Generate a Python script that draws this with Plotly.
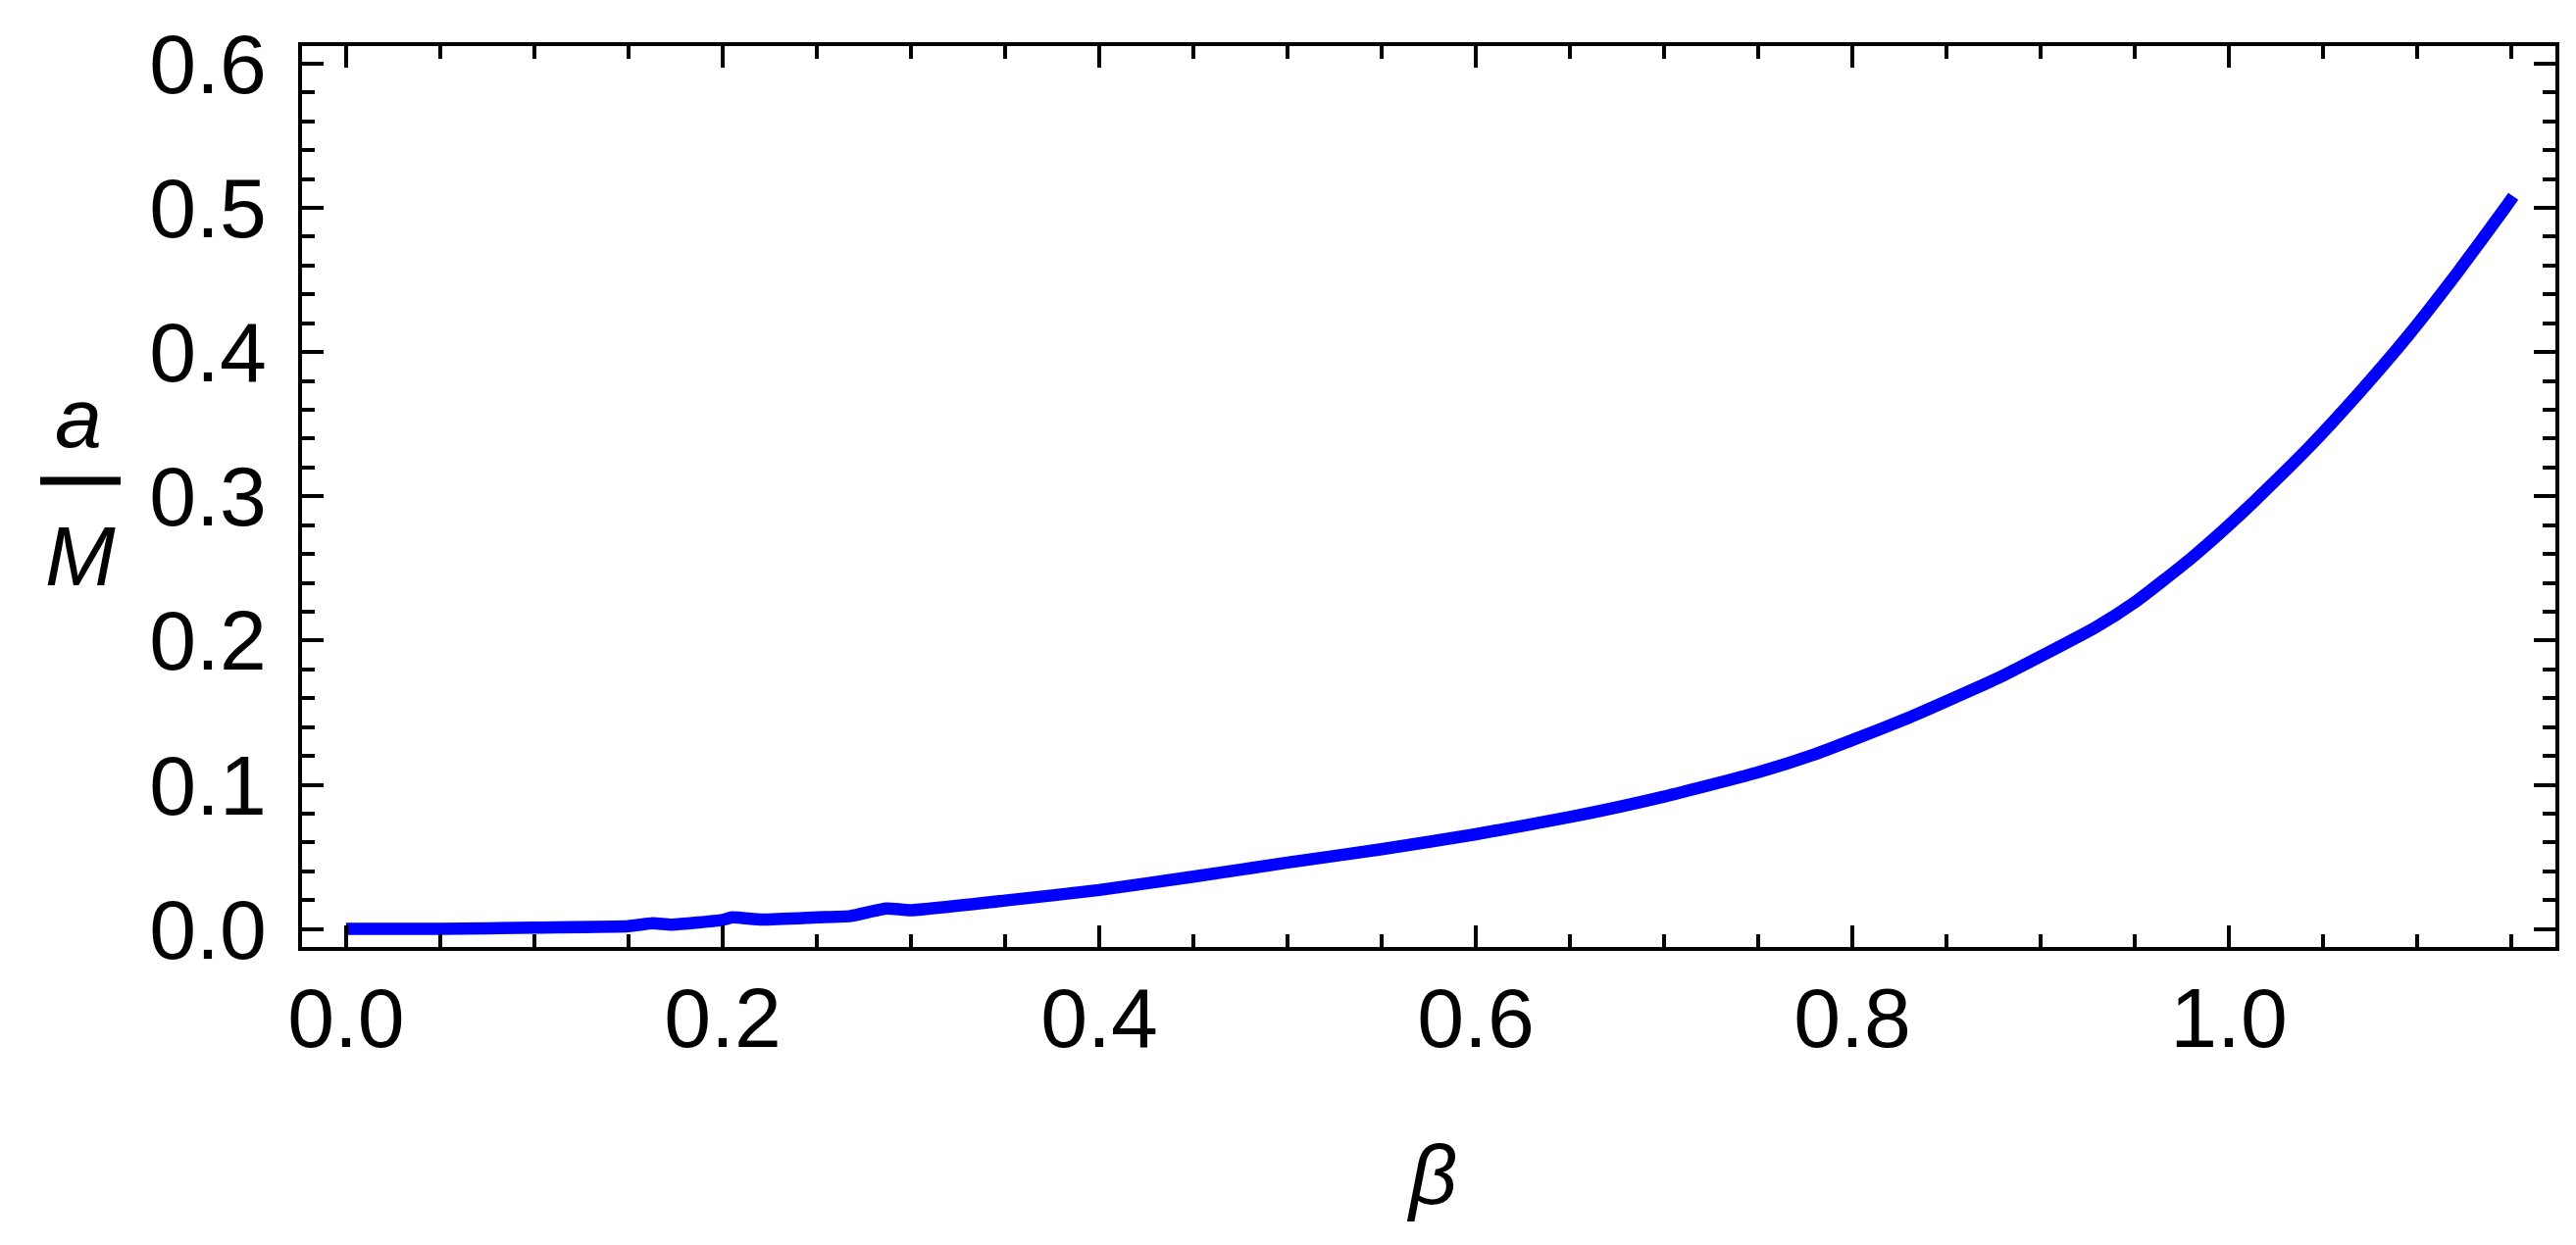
import plotly.graph_objects as go

# data
beta = [0.000, 0.050, 0.100, 0.150, 0.163, 0.173, 0.200, 0.205, 0.221, 0.250,
        0.268, 0.287, 0.300, 0.350, 0.400, 0.450, 0.500, 0.550, 0.600, 0.650,
        0.700, 0.750, 0.779, 0.800, 0.829, 0.850, 0.879, 0.900, 0.929, 0.950,
        0.979, 1.000, 1.013, 1.0425, 1.0686, 1.0946, 1.1207, 1.1467, 1.151]
a_over_M = [0.0000, 0.0000, 0.0010, 0.0020, 0.0040, 0.0030, 0.0063, 0.0080, 0.0065, 0.0080,
            0.0090, 0.0142, 0.0130, 0.0197, 0.0270, 0.0363, 0.0460, 0.0553, 0.0657, 0.0776,
            0.0918, 0.1086, 0.1206, 0.1310, 0.1460, 0.1580, 0.1750, 0.1890, 0.2090, 0.2265,
            0.2560, 0.2800, 0.2960, 0.3340, 0.3710, 0.4105, 0.4540, 0.5000, 0.5080]

x_ticks = [0.0, 0.2, 0.4, 0.6, 0.8, 1.0]
x_ticklabels = ["0.0", "0.2", "0.4", "0.6", "0.8", "1.0"]
y_ticks = [0.0, 0.1, 0.2, 0.3, 0.4, 0.5, 0.6]
y_ticklabels = ["0.0", "0.1", "0.2", "0.3", "0.4", "0.5", "0.6"]

FONT = "Liberation Sans, Arial, sans-serif"
FS = 86

W, H = 2627, 1270
L, R, T, B = 300, 29, 39, 312
pw, ph = W - L - R, H - T - B


def px(X):
    return (X - L) / pw


def py(Y):
    return (H - B - Y) / ph


fig = go.Figure()
fig.add_trace(go.Scatter(x=beta, y=a_over_M, mode="lines",
                         line=dict(color="#0000FF", width=12.5, shape="spline", smoothing=0.5),
                         showlegend=False, hoverinfo="skip"))

axis_common = dict(
    showgrid=False, zeroline=False, showline=True, linecolor="black", linewidth=4,
    mirror="allticks", ticks="inside", ticklen=22, tickwidth=3.5, tickcolor="black",
    tickfont=dict(family=FONT, size=FS, color="black"),
)

fig.update_xaxes(range=[-0.0234, 1.1734], tickvals=x_ticks, ticktext=x_ticklabels,
                 minor=dict(ticks="inside", ticklen=13, tickwidth=3.5, tickcolor="black",
                            tick0=0, dtick=0.05, showgrid=False),
                 ticklabelstandoff=-5, **axis_common)
fig.update_yaxes(range=[-0.0125, 0.6122], tickvals=y_ticks, ticktext=y_ticklabels,
                 minor=dict(ticks="inside", ticklen=13, tickwidth=3.5, tickcolor="black",
                            tick0=0, dtick=0.02, showgrid=False),
                 ticklabelstandoff=15, **axis_common)

annotations = [
    dict(text="<i>β</i>", x=px(1452), y=py(1190), xref="paper", yref="paper",
         xanchor="center", yanchor="middle", showarrow=False,
         font=dict(family=FONT, size=FS, color="black")),
    dict(text="<i>a</i>", x=px(72), y=py(418), xref="paper", yref="paper",
         xanchor="center", yanchor="middle", showarrow=False,
         font=dict(family=FONT, size=FS, color="black")),
    dict(text="<i>M</i>", x=px(74), y=py(559), xref="paper", yref="paper",
         xanchor="center", yanchor="middle", showarrow=False,
         font=dict(family=FONT, size=FS, color="black")),
]

shapes = [dict(type="line", xref="paper", yref="paper",
               x0=px(33), x1=px(115), y0=py(482.5), y1=py(482.5),
               line=dict(color="black", width=8))]

fig.update_layout(width=W, height=H, margin=dict(l=L, r=R, t=T, b=B, autoexpand=False),
                  plot_bgcolor="white", paper_bgcolor="white",
                  annotations=annotations, shapes=shapes)

fig.write_html("out.html")
